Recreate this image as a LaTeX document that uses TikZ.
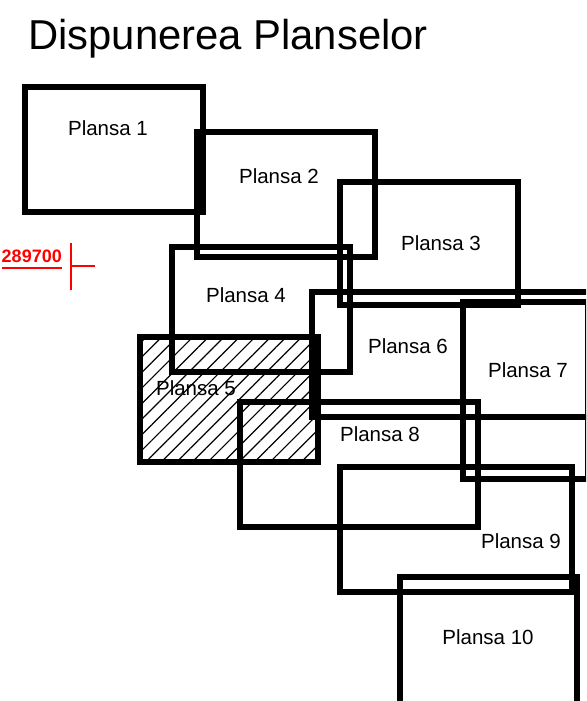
\documentclass[tikz,border=0pt]{standalone}
\usepackage{fontspec}
\setmainfont{Liberation Sans}
\usetikzlibrary{patterns.meta}
\definecolor{markred}{HTML}{FF0000}

\begin{document}
\begin{tikzpicture}[x=1pt,y=-1pt,
    sheet/.style={draw=black,line width=6pt},
    sheetlabel/.style={font=\fontsize{20.5}{24}\selectfont,inner sep=0pt},
    hatch/.style={pattern={Lines[angle=45,distance=11pt,line width=1.2pt]}},
    marker/.style={draw=markred,line width=1.5pt}
  ]
    \clip (0,0) rectangle (586,701);
    \node[anchor=base west,inner sep=0pt,font=\fontsize{41.8}{48}\selectfont] (title) at (28,50) {Dispunerea Planselor};
    % hatched sheet goes under the frames
    \fill[hatch] (140,337) rectangle (318,462);
    \draw[sheet] (25,87) rectangle (203,212);
    \draw[sheet] (197,132) rectangle (375,257);
    \draw[sheet] (340,182) rectangle (518,305);
    \draw[sheet] (172,247) rectangle (350,372);
    \draw[sheet] (140,337) rectangle (318,462);
    \draw[sheet] (312,292) rectangle (700,417);
    \draw[sheet] (463,302) rectangle (588,479);
    \draw[sheet] (240,402) rectangle (478,527);
    \draw[sheet] (340,467) rectangle (572,592);
    \draw[sheet] (400,577) rectangle (577,704);
    \node[sheetlabel] (p1) at (108,128) {Plansa 1};
    \node[sheetlabel] (p2) at (279,176) {Plansa 2};
    \node[sheetlabel] (p3) at (441,243) {Plansa 3};
    \node[sheetlabel] (p4) at (246,295) {Plansa 4};
    \node[sheetlabel] (p5) at (196,388) {Plansa 5};
    \node[sheetlabel] (p6) at (408,346) {Plansa 6};
    \node[sheetlabel] (p7) at (528,370) {Plansa 7};
    \node[sheetlabel] (p8) at (380,434) {Plansa 8};
    \node[sheetlabel] (p9) at (521,541) {Plansa 9};
    \node[sheetlabel] (p10) at (488,637) {Plansa 10};
    % red coordinate mark
    \node[anchor=base east,inner sep=0pt,text=markred,font=\bfseries\fontsize{18}{21}\selectfont] (coord) at (62,262) {289700};
    \draw[marker] ([yshift=-6pt]coord.base west) -- ([yshift=-6pt]coord.base east);
    \coordinate (cross) at (71,266);
    \draw[marker] ([yshift=23pt]cross) -- ([yshift=-24pt]cross);
    \draw[marker] (cross) -- ([xshift=24pt]cross);
  \end{tikzpicture}
\end{document}
